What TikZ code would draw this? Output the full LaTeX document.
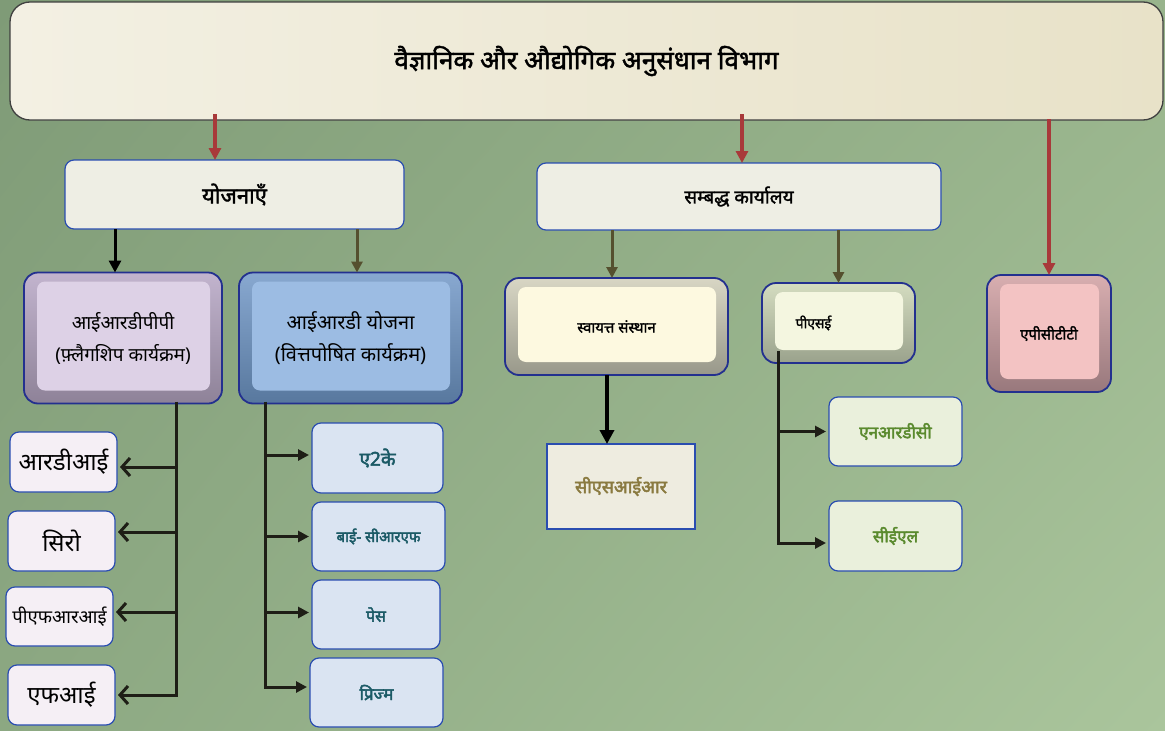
\documentclass[tikz,border=0pt]{standalone}
\usepackage{fontspec}
\setmainfont{Noto Sans}[Script=Devanagari]
\newfontfamily\devb{Noto Sans}[Script=Devanagari, FakeBold=1.6]
\newfontfamily\devbb{Noto Sans}[Script=Devanagari, FakeBold=2.6]
\usetikzlibrary{arrows.meta,calc,shadings}
\definecolor{bgUL}{HTML}{7F9B77}
\definecolor{bgUR}{HTML}{98B48C}
\definecolor{bgLL}{HTML}{8CA882}
\definecolor{bgLR}{HTML}{AAC59C}
\definecolor{creamA}{HTML}{F3F0E3}
\definecolor{creamB}{HTML}{E8E2C8}
\definecolor{boxblue}{HTML}{2A4DB0}
\definecolor{bevblue}{HTML}{23308F}
\definecolor{paleface}{HTML}{EEEEE4}
\definecolor{lavtop}{HTML}{C2B4CE}
\definecolor{lavbot}{HTML}{8E8298}
\definecolor{lavface}{HTML}{DDD1E6}
\definecolor{bluetop}{HTML}{88A8D0}
\definecolor{bluebot}{HTML}{58789E}
\definecolor{blueface}{HTML}{9CBCE3}
\definecolor{graytop}{HTML}{D8D6C4}
\definecolor{graybot}{HTML}{98988A}
\definecolor{creamface}{HTML}{FDF9E0}
\definecolor{limetop}{HTML}{D4DCC0}
\definecolor{limebot}{HTML}{9AA28C}
\definecolor{limeface}{HTML}{F4F6E0}
\definecolor{pinktop}{HTML}{D8AEB0}
\definecolor{pinkbot}{HTML}{98787C}
\definecolor{pinkface}{HTML}{F3C3C3}
\definecolor{listL}{HTML}{F5EFF5}
\definecolor{listR}{HTML}{DAE4F2}
\definecolor{tealtxt}{HTML}{1B5A66}
\definecolor{csirface}{HTML}{EEECE0}
\definecolor{olivetxt}{HTML}{8A7A40}
\definecolor{greenface}{HTML}{EAF0DC}
\definecolor{greentxt}{HTML}{5A8A2E}
\definecolor{arrred}{HTML}{A8393A}
\definecolor{arrolive}{HTML}{55502F}
\definecolor{trunk}{HTML}{1E1E16}
\tikzset{
  flat/.style={draw=boxblue, line width=1.2pt, rounded corners=9pt, inner sep=0pt, outer sep=0pt, align=center},
  bevel/.style={draw=bevblue, line width=1.8pt, rounded corners=14pt, inner sep=0pt, outer sep=0pt, align=center,
    path picture={\fill[#1, rounded corners=8pt] ($(path picture bounding box.north west)+(13,9)$) rectangle ($(path picture bounding box.south east)+(-12,-13)$);}},
  redarr/.style={draw=arrred, line width=3.2pt, -{Triangle[length=12pt,width=12pt]}},
  olivearr/.style={draw=arrolive, line width=3pt, -{Triangle[length=11pt,width=11pt]}},
  blackarr/.style={draw=black, line width=3pt, -{Triangle[length=12pt,width=12pt]}},
  trunkline/.style={draw=trunk, line width=3pt},
  barb/.style={draw=trunk, line width=3pt, -{Straight Barb[length=8pt,width=18pt]}, shorten >=3pt},
  tri/.style={draw=trunk, line width=3pt, -{Triangle[length=11pt,width=11pt]}, shorten >=3pt}
}
\begin{document}
\begin{tikzpicture}[x=1pt,y=-1pt]
\useasboundingbox (0,0) rectangle (1165,731);
\shade[upper left=bgUL, upper right=bgUR, lower left=bgLL, lower right=bgLR] (0,0) rectangle (1165,731);

% top box
\node[draw=black!75, line width=1.3pt, rounded corners=20pt, left color=creamA, right color=creamB,
  minimum width=1153pt, minimum height=118pt, inner sep=0pt, outer sep=0pt,
  font=\devb\fontsize{26}{30}\selectfont] (dsir) at (586.5,61)
  {\raisebox{6pt}{वैज्ञानिक और औद्योगिक अनुसंधान विभाग}};

% second level
\node[flat, fill=paleface, minimum width=339pt, minimum height=69pt, font=\devb\fontsize{22}{26}\selectfont] (yoj) at (234.5,194.5)
  {योजनाएँ};
\node[flat, fill=paleface, minimum width=404pt, minimum height=67pt, font=\devb\fontsize{19}{23}\selectfont] (samb) at (739,196.5)
  {सम्बद्ध कार्यालय};

% third level (bevel boxes)
\node[bevel=lavface, top color=lavtop, bottom color=lavbot, minimum width=198pt, minimum height=131pt,
  font=\fontsize{19}{32}\selectfont] (irdpp) at (123,338)
  {आईआरडीपीपी\\(फ़्लैगशिप कार्यक्रम)};
\node[bevel=blueface, top color=bluetop, bottom color=bluebot, minimum width=223pt, minimum height=131pt,
  font=\fontsize{20}{32}\selectfont] (irdd) at (350.5,338)
  {आईआरडी योजना\\(वित्तपोषित कार्यक्रम)};
\node[bevel=creamface, top color=graytop, bottom color=graybot, minimum width=223pt, minimum height=97pt,
  font=\devb\fontsize{15}{18}\selectfont] (svayatt) at (616.5,326.5)
  {स्वायत्त संस्थान};
\node[bevel=limeface, top color=limetop, bottom color=limebot, minimum width=153pt, minimum height=80pt,
  font=\devb\fontsize{14}{17}\selectfont] (pse) at (838.5,323)
  {पीएसई\hspace*{50pt}};
\node[bevel=pinkface, top color=pinktop, bottom color=pinkbot, minimum width=124pt, minimum height=117pt,
  font=\devb\fontsize{15}{18}\selectfont] (apctt) at (1049,333.5)
  {एपीसीटीटी};

% left list
\node[flat, fill=listL, minimum width=107pt, minimum height=60pt, font=\fontsize{24}{28}\selectfont] (rdi) at (63.5,462)
  {आरडीआई};
\node[flat, fill=listL, minimum width=107pt, minimum height=60pt, font=\fontsize{24}{28}\selectfont] (siro) at (61.5,541)
  {सिरो};
\node[flat, fill=listL, minimum width=107pt, minimum height=59pt, font=\fontsize{18.5}{22}\selectfont] (pfri) at (59.5,616.5)
  {पीएफआरआई};
\node[flat, fill=listL, minimum width=107pt, minimum height=60pt, font=\fontsize{24}{28}\selectfont] (fi) at (61.5,695)
  {एफआई};

% right list
\node[flat, fill=listR, minimum width=131pt, minimum height=70pt, text=tealtxt, font=\devbb\fontsize{19}{22}\selectfont] (a2k) at (377.5,458)
  {ए2के};
\node[flat, fill=listR, minimum width=133pt, minimum height=69pt, text=tealtxt, font=\devbb\fontsize{15}{18}\selectfont] (bicrf) at (378.5,536.5)
  {बाई- सीआरएफ};
\node[flat, fill=listR, minimum width=128pt, minimum height=69pt, text=tealtxt, font=\devbb\fontsize{16}{19}\selectfont] (pace) at (376,614.5)
  {पेस};
\node[flat, fill=listR, minimum width=133pt, minimum height=69pt, text=tealtxt, font=\devbb\fontsize{17}{20}\selectfont] (prism) at (376.5,692.5)
  {प्रिज्म};

% CSIR, NRDC, CEL
\node[draw=boxblue, line width=1.2pt, fill=csirface, inner sep=0pt, outer sep=0pt,
  minimum width=148pt, minimum height=85pt, text=olivetxt, font=\devbb\fontsize{18}{21}\selectfont] (csir) at (621,486.5)
  {सीएसआईआर};
\node[flat, fill=greenface, minimum width=133pt, minimum height=69pt, text=greentxt, font=\devbb\fontsize{17}{20}\selectfont] (nrdc) at (895.5,431.5)
  {एनआरडीसी};
\node[flat, fill=greenface, minimum width=133pt, minimum height=70pt, text=greentxt, font=\devbb\fontsize{17}{20}\selectfont] (cel) at (895.5,536)
  {सीईएल};

% red arrows from top
\draw[redarr] ([xshift=-19.5pt,yshift=6pt]yoj.north |- dsir.south) -- ([xshift=-19.5pt]yoj.north);
\draw[redarr] ([xshift=3pt,yshift=6pt]samb.north |- dsir.south) -- ([xshift=3pt]samb.north);
\draw[redarr] ([yshift=1pt]apctt.north |- dsir.south) -- (apctt.north);

% second to third level
\draw[blackarr] ([xshift=-8pt]irdpp.north |- yoj.south) -- ([xshift=-8pt]irdpp.north);
\draw[olivearr] ([xshift=6.5pt]irdd.north |- yoj.south) -- ([xshift=6.5pt]irdd.north);
\draw[olivearr] ([xshift=-4.5pt]svayatt.north |- samb.south) -- ([xshift=-4.5pt]svayatt.north);
\draw[olivearr] (pse.north |- samb.south) -- (pse.north);

% left trunk
\coordinate (lt) at (176,0);
\draw[trunkline] ([yshift=2pt]irdpp.south -| lt) -- ([yshift=-1.5pt]lt |- fi.east);
\draw[barb] ([yshift=-5pt]lt |- rdi.east) -- ([yshift=-5pt]rdi.east);
\draw[barb] ([yshift=9pt]lt |- siro.east) -- ([yshift=9pt]siro.east);
\draw[barb] ([yshift=4.5pt]lt |- pfri.east) -- ([yshift=4.5pt]pfri.east);
\draw[barb] (lt |- fi.east) -- (fi.east);

% right trunk
\coordinate (rt) at (265,0);
\draw[trunkline] ([yshift=2pt]irdd.south -| rt) -- ([yshift=4pt]rt |- prism.west);
\draw[tri] ([yshift=3pt]rt |- a2k.west) -- ([yshift=3pt]a2k.west);
\draw[tri] (rt |- bicrf.west) -- (bicrf.west);
\draw[tri] ([yshift=2pt]rt |- pace.west) -- ([yshift=2pt]pace.west);
\draw[tri] ([yshift=5.5pt]rt |- prism.west) -- ([yshift=5.5pt]prism.west);

% svayatt to csir
\draw[blackarr, line width=3.5pt, -{Triangle[length=14pt,width=14pt]}] ([xshift=-9.5pt]svayatt.south) -- ([xshift=-9.5pt]svayatt.south |- csir.north);

% pse trunk
\coordinate (pt) at ($(pse.south west)+(16,-12)$);
\draw[trunkline] (pt) -- ([yshift=-8.5pt]pt |- cel.west);
\draw[tri] (pt |- nrdc.west) -- (nrdc.west);
\draw[tri] ([yshift=-7pt]pt |- cel.west) -- ([yshift=-7pt]cel.west);
\end{tikzpicture}
\end{document}
